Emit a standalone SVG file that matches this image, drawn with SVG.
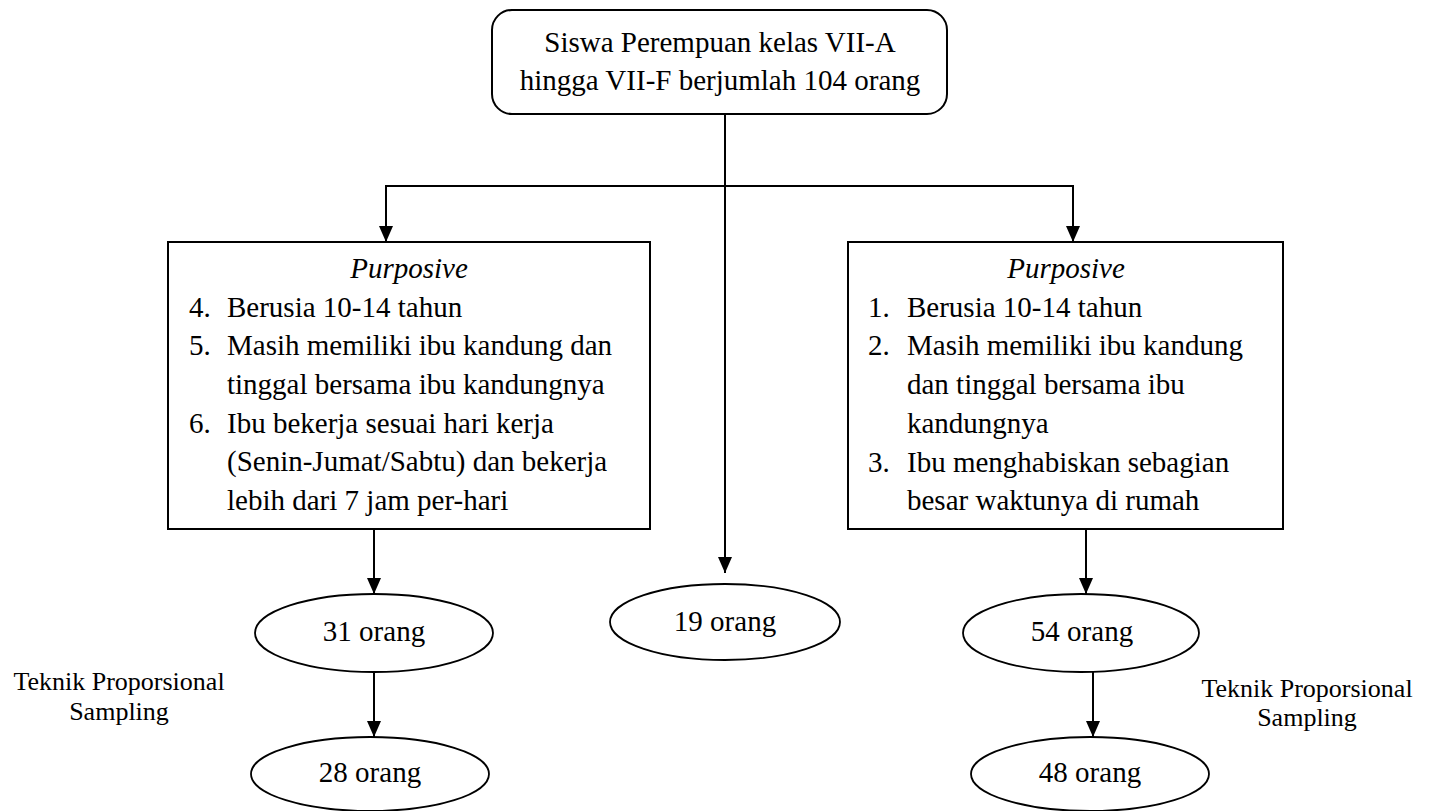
<svg xmlns="http://www.w3.org/2000/svg" width="1432" height="811" viewBox="0 0 1432 811" font-family="'Liberation Serif', 'Times New Roman', Times, serif">
<style>
text{font-family:"Liberation Serif","Times New Roman",Times,serif;fill:#000}
.t{font-size:29px}
.s{font-size:26px}
.c{text-anchor:middle}
.box{fill:#fff;stroke:#000;stroke-width:2}
.ell{fill:#fff;stroke:#000;stroke-width:1.8}
.ln{fill:none;stroke:#000;stroke-width:2}
</style>
<defs>
<marker id="ah" viewBox="0 0 16 14" refX="16" refY="7" markerWidth="16" markerHeight="14" orient="auto" markerUnits="userSpaceOnUse">
<path d="M0,0 L16,7 L0,14 z" fill="#000"/>
</marker>
</defs>
<rect width="1432" height="811" fill="#fff"/>
<g id="connectors">
<line class="ln" x1="725" y1="114" x2="725" y2="573" marker-end="url(#ah)"/>
<polyline class="ln" points="386,242 386,186 1073,186 1073,242" marker-end="url(#ah)"/>
<line class="ln" x1="386" y1="186" x2="386" y2="242" marker-end="url(#ah)"/>
<line class="ln" x1="374" y1="530" x2="374" y2="594" marker-end="url(#ah)"/>
<line class="ln" x1="1086" y1="530" x2="1086" y2="594" marker-end="url(#ah)"/>
<line class="ln" x1="374" y1="672" x2="374" y2="737" marker-end="url(#ah)"/>
<line class="ln" x1="1093" y1="672" x2="1093" y2="737" marker-end="url(#ah)"/>
</g>
<g id="top">
<rect class="box" x="492" y="10" width="455" height="104" rx="20" ry="20"/>
<text class="t c" x="720" y="52">Siswa Perempuan kelas VII-A</text>
<text class="t c" x="720" y="90">hingga VII-F berjumlah 104 orang</text>
</g>
<g id="left-box">
<rect class="box" x="168" y="242" width="482" height="287"/>
<text class="t c" x="409" y="278" font-style="italic">Purposive</text>
<text class="t" x="189" y="317">4.</text>
<text class="t" x="227" y="317">Berusia 10-14 tahun</text>
<text class="t" x="189" y="355">5.</text>
<text class="t" x="227" y="355">Masih memiliki ibu kandung dan</text>
<text class="t" x="227" y="394">tinggal bersama ibu kandungnya</text>
<text class="t" x="189" y="433">6.</text>
<text class="t" x="227" y="433">Ibu bekerja sesuai hari kerja</text>
<text class="t" x="227" y="471">(Senin-Jumat/Sabtu) dan bekerja</text>
<text class="t" x="227" y="510">lebih dari 7 jam per-hari</text>
</g>
<g id="right-box">
<rect class="box" x="848" y="242" width="435" height="287"/>
<text class="t c" x="1066" y="278" font-style="italic">Purposive</text>
<text class="t" x="868" y="317">1.</text>
<text class="t" x="907" y="317">Berusia 10-14 tahun</text>
<text class="t" x="868" y="355">2.</text>
<text class="t" x="907" y="355">Masih memiliki ibu kandung</text>
<text class="t" x="907" y="394">dan tinggal bersama ibu</text>
<text class="t" x="907" y="433">kandungnya</text>
<text class="t" x="868" y="472">3.</text>
<text class="t" x="907" y="472">Ibu menghabiskan sebagian</text>
<text class="t" x="907" y="510">besar waktunya di rumah</text>
</g>
<g id="e31">
<ellipse class="ell" cx="374" cy="633" rx="119" ry="39"/>
<text class="t c" x="374" y="641">31 orang</text>
</g>
<g id="e19">
<ellipse class="ell" cx="725" cy="622" rx="115" ry="38"/>
<text class="t c" x="725" y="631">19 orang</text>
</g>
<g id="e54">
<ellipse class="ell" cx="1081" cy="633" rx="118" ry="39"/>
<text class="t c" x="1082" y="641">54 orang</text>
</g>
<g id="e28">
<ellipse class="ell" cx="370" cy="774" rx="119" ry="37"/>
<text class="t c" x="370" y="782">28 orang</text>
</g>
<g id="e48">
<ellipse class="ell" cx="1090" cy="774" rx="119" ry="37"/>
<text class="t c" x="1090" y="782">48 orang</text>
</g>
<g id="label-left">
<text class="s c" x="119" y="690">Teknik Proporsional</text>
<text class="s c" x="119" y="720">Sampling</text>
</g>
<g id="label-right">
<text class="s c" x="1307" y="697">Teknik Proporsional</text>
<text class="s c" x="1307" y="726">Sampling</text>
</g>
</svg>
